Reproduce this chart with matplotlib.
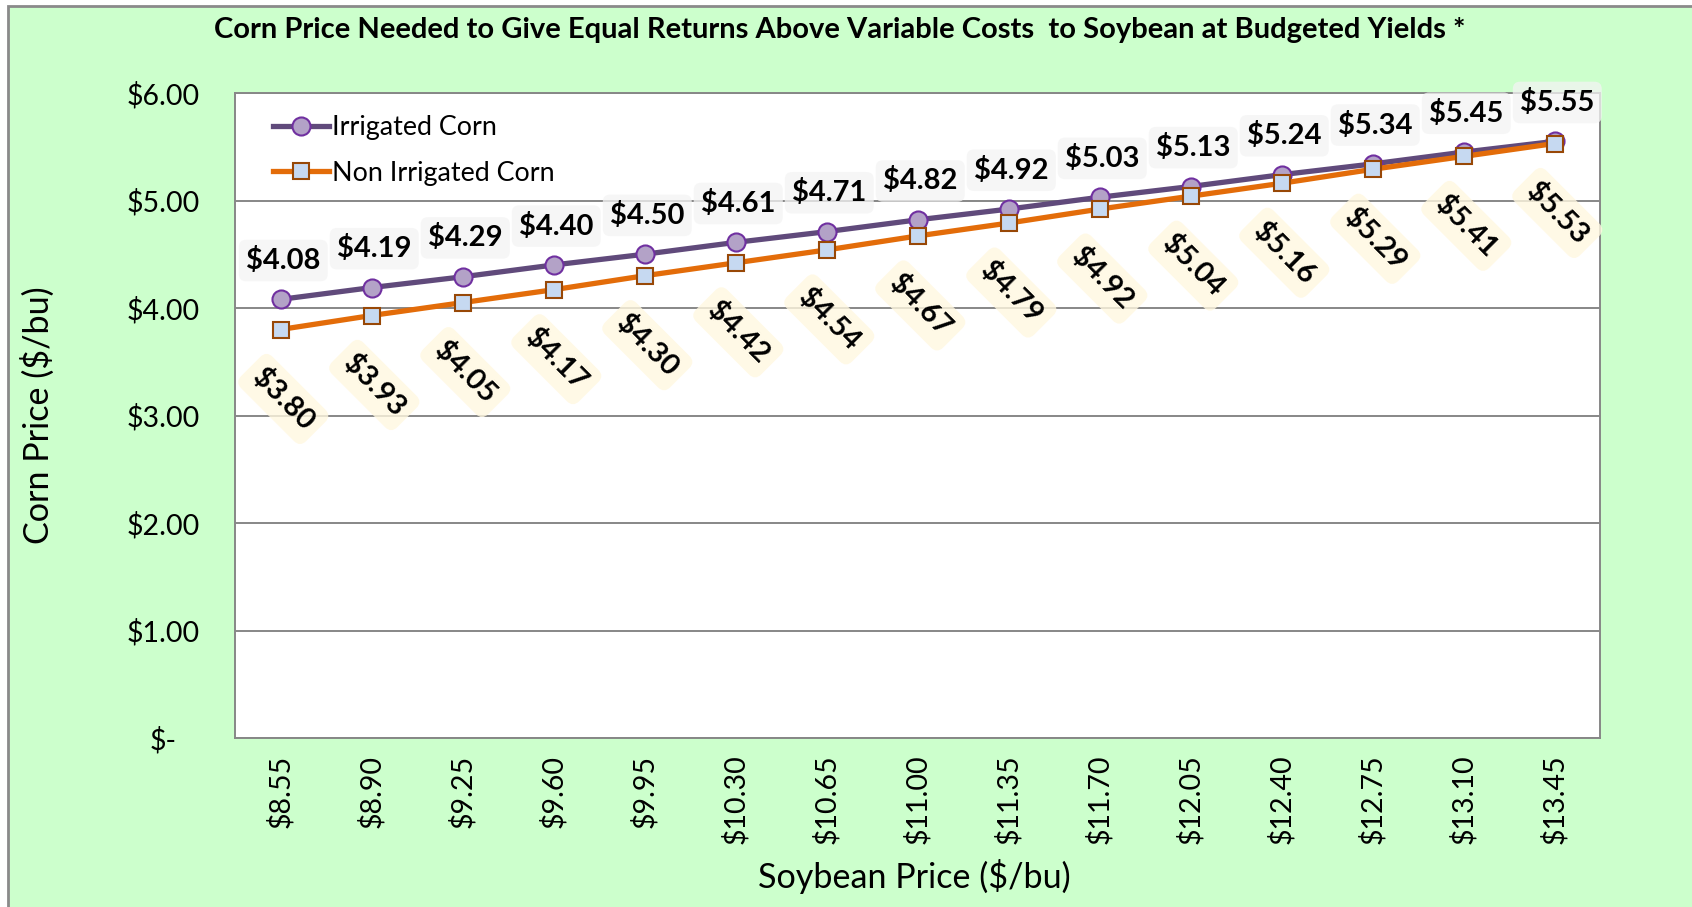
import numpy as np
import matplotlib
matplotlib.use("Agg")
import matplotlib.pyplot as plt
from matplotlib.patches import Rectangle

# data
soy_prices = ['$8.55', '$8.90', '$9.25', '$9.60', '$9.95', '$10.30', '$10.65', '$11.00',
              '$11.35', '$11.70', '$12.05', '$12.40', '$12.75', '$13.10', '$13.45']
irrigated = [4.08, 4.19, 4.29, 4.40, 4.50, 4.61, 4.71, 4.82, 4.92, 5.03, 5.13, 5.24, 5.34, 5.45, 5.55]
non_irrigated = [3.80, 3.93, 4.05, 4.17, 4.30, 4.42, 4.54, 4.67, 4.79, 4.92, 5.04, 5.16, 5.29, 5.41, 5.53]
y_ticks = [0, 1, 2, 3, 4, 5, 6]
y_labels = ['$-', '$1.00', '$2.00', '$3.00', '$4.00', '$5.00', '$6.00']

plt.rcParams['font.family'] = ['Lato', 'DejaVu Sans']

W, H = 1692, 907
fig = plt.figure(figsize=(W / 100, H / 100), dpi=100, facecolor='white')

# green chart area with grey border on left/top
fig.patches.append(Rectangle((8 / W, -0.05), 1.1, 1 - 6 / H + 0.05, transform=fig.transFigure,
                             facecolor='#CCFFCC', edgecolor='#8a8a8a', lw=2, zorder=-10))

ax = fig.add_axes([235 / W, 1 - 738 / H, (1600 - 235) / W, (738 - 93) / H])
ax.set_facecolor('white')

x = np.arange(len(soy_prices))
ax.plot(x, irrigated, color='#604A7B', lw=3.8, marker='o', ms=13, mfc='#B3A2C7',
        mec='#7030A0', mew=1.5, label='Irrigated Corn', zorder=3)
ax.plot(x, non_irrigated, color='#E36C09', lw=3.8, marker='s', ms=12, mfc='#C6D9F1',
        mec='#984807', mew=1.5, label='Non Irrigated Corn', zorder=4)

for i, v in enumerate(irrigated):
    ax.annotate(f'${v:.2f}', (i, v), xytext=(2, 28), textcoords='offset points',
                ha='center', va='center', fontsize=21, fontweight='bold', zorder=5,
                bbox=dict(boxstyle='round,pad=0.25', fc='#f4f4f4', ec='none', alpha=0.75))
for i, v in enumerate(non_irrigated):
    ax.annotate(f'${v:.2f}', (i, v), xytext=(2, -50), textcoords='offset points',
                ha='center', va='center', rotation=-45, rotation_mode='anchor',
                fontsize=21, fontweight='bold', zorder=5,
                bbox=dict(boxstyle='round,pad=0.3', fc='#fff8e0', ec='none', alpha=0.8))

ax.set_xlim(-0.5, len(soy_prices) - 0.5)
ax.set_ylim(0, 6)
ax.set_xticks(x)
ax.set_xticklabels(soy_prices, rotation=90, fontsize=20.5)
ax.set_yticks(y_ticks)
ax.set_yticklabels(y_labels, fontsize=20.5)
for lbl in ax.get_yticklabels():
    lbl.set_horizontalalignment('center')
ax.tick_params(axis='y', length=0, pad=52)
ax.tick_params(axis='x', length=0, pad=12)

ax.grid(axis='y', color='#878787', lw=1.4)
ax.set_axisbelow(True)
for s in ax.spines.values():
    s.set_color('#878787')
    s.set_linewidth(1.4)

leg = ax.legend(loc='upper left', bbox_to_anchor=(0.010, 1.003), frameon=False, fontsize=19.4,
                handlelength=2.1, handletextpad=0.1, labelspacing=0.75)

fig.text(840 / W, 1 - 30 / H,
         'Corn Price Needed to Give Equal Returns Above Variable Costs  to Soybean at Budgeted Yields *',
         ha='center', va='center', fontsize=21, fontweight='bold')
fig.text(38 / W, 1 - 415 / H, 'Corn Price ($/bu)', rotation=90, ha='center', va='center', fontsize=24.6)
fig.text(914 / W, 1 - 877 / H, 'Soybean Price ($/bu)', ha='center', va='center', fontsize=24.6)

fig.savefig('out.png', dpi=100, facecolor=fig.get_facecolor())
